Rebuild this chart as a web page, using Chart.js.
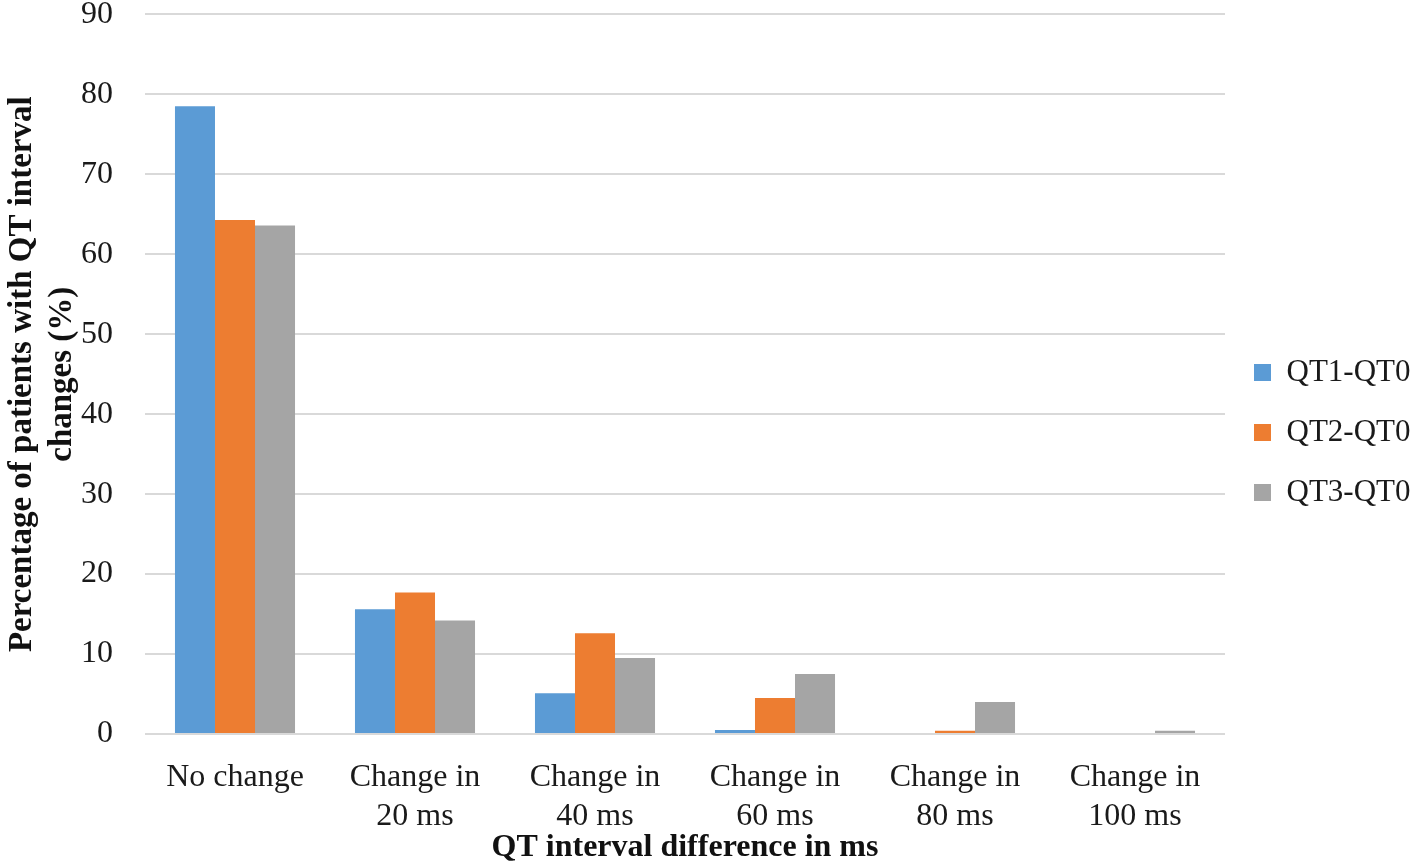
<!DOCTYPE html>
<html>
<head>
<meta charset="utf-8">
<script src="https://cdn.jsdelivr.net/npm/chart.js@4"></script>
<style>
  html, body { margin: 0; padding: 0; background: #fff; }
  #wrap { width: 1416px; height: 865px; }
</style>
</head>
<body>
<div id="wrap"><canvas id="qtChart"></canvas></div>
<script>
// Categories and series
const categories = [
  'No change',
  ['Change in', '20 ms'],
  ['Change in', '40 ms'],
  ['Change in', '60 ms'],
  ['Change in', '80 ms'],
  ['Change in', '100 ms']
];
const qt1 = [78.5, 15.6, 5.1, 0.5, 0, 0];
const qt2 = [64.3, 17.7, 12.6, 4.5, 0.4, 0];
const qt3 = [63.6, 14.2, 9.5, 7.5, 4.0, 0.4];
const seriesNames = ['QT1-QT0', 'QT2-QT0', 'QT3-QT0'];

const serif = "'Liberation Serif', 'Times New Roman', serif";

new Chart(document.getElementById('qtChart').getContext('2d'), {
  type: 'bar',
  data: {
    labels: categories,
    datasets: [
      { label: seriesNames[0], data: qt1, backgroundColor: '#5b9bd5' },
      { label: seriesNames[1], data: qt2, backgroundColor: '#ed7d31' },
      { label: seriesNames[2], data: qt3, backgroundColor: '#a5a5a5' }
    ]
  },
  options: {
    responsive: true,
    maintainAspectRatio: false,
    animation: false,
    layout: { padding: 0 },
    datasets: { bar: { categoryPercentage: 0.667, barPercentage: 1.0 } },
    scales: {
      x: {
        grid: { display: false },
        border: { display: false },
        ticks: { color: '#1a1a1a', font: { family: serif, size: 32, lineHeight: 1.19 }, padding: 17, maxRotation: 0 },
        title: { display: true, text: 'QT interval difference in ms', color: '#111',
                 font: { family: serif, size: 32, weight: 'bold', lineHeight: 1.2 }, padding: { top: 0, bottom: -2 } },
        afterFit: (scale) => { scale.height = 131; }
      },
      y: {
        min: 0, max: 90,
        grid: { color: '#d9d9d9', lineWidth: 2, drawTicks: true, tickLength: 32, tickColor: 'rgba(0,0,0,0)' },
        border: { display: false },
        ticks: { stepSize: 10, color: '#1a1a1a', font: { family: serif, size: 32, lineHeight: 0.9 }, padding: 0 },
        title: { display: true, text: ['Percentage of patients with QT interval', 'changes (%)'], color: '#111',
                 font: { family: serif, size: 33, weight: 'bold', lineHeight: 1.2 }, padding: { top: 3, bottom: 0 } },
        afterFit: (scale) => { scale.width = 145; }
      }
    },
    plugins: {
      legend: {
        position: 'right',
        maxWidth: 191,
        labels: { color: '#1a1a1a', font: { family: serif, size: 31 }, boxWidth: 17, boxHeight: 17, padding: 29 }
      },
      tooltip: { enabled: false }
    }
  }
});
</script>
</body>
</html>
